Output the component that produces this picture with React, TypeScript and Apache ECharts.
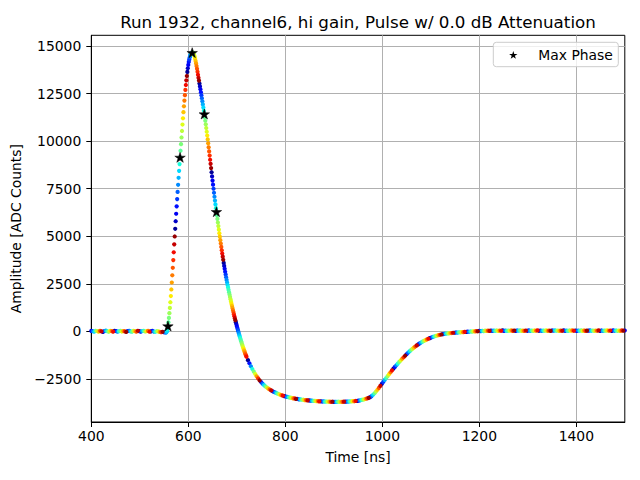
import React, { useEffect, useRef } from "react";
import * as echarts from "echarts";

// ---------------- data ----------------
// Waveform samples, split in segments: start time [ns], sampling step [ns], amplitudes [ADC counts]
const preStartNs = 400;
const preStepNs = 3;
const preAmplitude = [
  25, 10, -15, 35, 20, -10, 30, 5, -25, 20,
  40, 10, -20, 30, 15, -10, 35, 20, -15, 10,
  30, -5, 20, 0, -25, 20, 30, 5, -20, 30,
  10, -10, 35, 15, -20, 20, 30, -5, 10, 25,
  -15, 5, 30, -10, -20, 10, 0, -25, -35, -20,
  -45, -55,
];

const pulseStartNs = 554;
const pulseStepNs = 1;
const pulseAmplitude = [
  -50, -35, 10, 120, 284, 484, 709, 959, 1234, 1534,
  1859, 2204, 2569, 2949, 3344, 3749, 4159, 4574, 4989, 5392,
  5790, 6183, 6571, 6954, 7332, 7705, 8073, 8436, 8794, 9147,
  9495, 9840, 10190, 10534, 10871, 11200, 11520, 11830, 12129, 12416,
  12690, 12950, 13195, 13424, 13636, 13830, 14005, 14160, 14294, 14406,
  14496, 14558, 14603, 14633, 14649, 14654, 14636, 14594, 14528, 14440,
  14334, 14214, 14083, 13943, 13796, 13644, 13488, 13329, 13179, 13028,
  12876, 12723, 12568, 12411, 12252, 12091, 11928, 11763, 11595, 11424,
  11248, 11067, 10881, 10690, 10494, 10294, 10090, 9882, 9671, 9457,
  9241, 9023, 8804, 8584, 8364, 8145, 7927, 7711, 7497, 7286,
  7078, 6873, 6672, 6475, 6290, 6102, 5912, 5722, 5533, 5346,
  5161, 4978, 4797, 4618, 4441, 4267, 4096, 3928, 3763, 3601,
  3442, 3287, 3136, 2989, 2846, 2707, 2572, 2441, 2314, 2186,
  2060, 1936, 1814, 1694, 1576, 1460, 1346, 1234, 1124, 1016,
  906, 798, 692, 588, 486, 386, 288, 192, 98, 6,
  -84, -173, -261, -348, -434, -519, -603, -685, -765, -843,
  -919, -993, -1065, -1135, -1203, -1269, -1333,
];

const undershootStartNs = 723;
const undershootStepNs = 3;
const undershootAmplitude = [
  -1510, -1675, -1830, -1975, -2110, -2240, -2360, -2470, -2570, -2660,
  -2745, -2820, -2890, -2950, -3005, -3055, -3100, -3145, -3185, -3220,
  -3255, -3290, -3320, -3345, -3375, -3400, -3420, -3440, -3460, -3480,
  -3495, -3515, -3520, -3545, -3550, -3570, -3570, -3590, -3590, -3610,
  -3610, -3625, -3625, -3640, -3635, -3655, -3650, -3665, -3660, -3675,
  -3670, -3685, -3678, -3690, -3685, -3695, -3690, -3700, -3695, -3705,
  -3698, -3705, -3695, -3705, -3698, -3700, -3690, -3695, -3685, -3690,
  -3675, -3680, -3665, -3670, -3655, -3655, -3635, -3630, -3600, -3590,
  -3565, -3540, -3515, -3490, -3455, -3400, -3330, -3250, -3160, -3065,
  -2965, -2862, -2758, -2654, -2550, -2448, -2347, -2247, -2148, -2050,
  -1953, -1864, -1776, -1689, -1603, -1519, -1436, -1355, -1276, -1199,
  -1124, -1052, -983, -917, -854, -794, -737, -683, -632, -584,
  -539, -497, -457, -420, -385, -352, -321, -292, -265, -240,
  -217, -196, -177, -160,
];

const tailStartNs = 1125;
const tailStepNs = 3;
const tailAmplitude = [
  -145, -125, -122, -100, -104, -85, -84, -70, -70, -55,
  -60, -45, -48, -32, -38, -22, -28, -12, -18, -2,
  -8, 8, 0, 18, 6, 25, 12, 30, 18, 38,
  22, 40, 28, 45, 25, 42, 30, 50, 28, 45,
  32, 52, 30, 48, 26, 44, 34, 55, 30, 46,
  28, 50, 36, 52, 30, 45, 26, 48, 34, 55,
  30, 46, 28, 50, 36, 54, 32, 48, 26, 44,
  34, 52, 30, 48, 28, 50, 36, 55, 32, 46,
  28, 44, 34, 52, 30, 48, 26, 50, 36, 54,
  32, 48, 28, 46, 34, 55, 30, 50, 28, 44,
  36, 52, 32, 48, 26, 46, 34, 54, 30, 50,
  28, 44, 36, 52, 32, 48, 30, 55, 34, 50,
  30, 46, 28, 52, 36, 48,
];

// Samples of the phase with the maximum amplitude
const maxPhaseTimes = [558, 583, 608, 633, 658];
const maxPhaseAmplitude = [284, 9147, 14649, 11424, 6290];

// Axis ticks
const xTickValues = [400, 600, 800, 1000, 1200, 1400];
const yTickValues = [-2500, 0, 2500, 5000, 7500, 10000, 12500, 15000];

// Texts
const titleText = "Run 1932, channel6, hi gain, Pulse w/ 0.0 dB Attenuation";
const xAxisLabel = "Time [ns]";
const yAxisLabel = "Amplitude [ADC Counts]";
const legendLabel = "Max Phase";

// ---------------- styling helpers ----------------
const FONT = "DejaVu Sans";
const PHASE_PERIOD_NS = 25;
const PHASE_REF_NS = 558;
const PHASE_REF_FRACTION = 0.42;

const JET_R: number[][] = [[0, 0], [0.35, 0], [0.66, 1], [0.89, 1], [1, 0.5]];
const JET_G: number[][] = [[0, 0], [0.125, 0], [0.375, 1], [0.64, 1], [0.91, 0], [1, 0]];
const JET_B: number[][] = [[0, 0.5], [0.11, 1], [0.34, 1], [0.65, 0], [1, 0]];

function stopValue(stops: number[][], c: number): number {
  for (let i = 1; i < stops.length; i++) {
    if (c <= stops[i][0]) {
      const [x0, y0] = stops[i - 1];
      const [x1, y1] = stops[i];
      return y0 + ((y1 - y0) * (c - x0)) / (x1 - x0);
    }
  }
  return stops[stops.length - 1][1];
}

function jet(c: number): string {
  const r = Math.round(255 * stopValue(JET_R, c));
  const g = Math.round(255 * stopValue(JET_G, c));
  const b = Math.round(255 * stopValue(JET_B, c));
  return `rgb(${r},${g},${b})`;
}

function phaseFraction(t: number): number {
  const c = PHASE_REF_FRACTION + (t - PHASE_REF_NS) / PHASE_PERIOD_NS;
  return c - Math.floor(c);
}

function starPoints(cx: number, cy: number, R: number): number[][] {
  const pts: number[][] = [];
  for (let k = 0; k < 10; k++) {
    const r = k % 2 === 0 ? R : R * 0.381966;
    const a = -Math.PI / 2 + (k * Math.PI) / 5;
    pts.push([cx + r * Math.cos(a), cy + r * Math.sin(a)]);
  }
  return pts;
}

const STAR_SYMBOL =
  "path://" +
  starPoints(10, 10, 10)
    .map((p, i) => (i ? "L" : "M") + p[0].toFixed(3) + " " + p[1].toFixed(3))
    .join(" ") +
  " Z";

const segments = [
  { start: preStartNs, step: preStepNs, values: preAmplitude },
  { start: pulseStartNs, step: pulseStepNs, values: pulseAmplitude },
  { start: undershootStartNs, step: undershootStepNs, values: undershootAmplitude },
  { start: tailStartNs, step: tailStepNs, values: tailAmplitude },
];

function buildWaveform() {
  const items: { value: number[]; itemStyle: { color: string; opacity: number }; phase: number }[] = [];
  segments.forEach((s) => {
    s.values.forEach((v, i) => {
      const t = s.start + i * s.step;
      const ph = phaseFraction(t);
      items.push({ value: [t, v], itemStyle: { color: jet(ph), opacity: 1 }, phase: ph });
    });
  });
  items.sort((a, b) => a.phase - b.phase);
  return items.map((d) => ({ value: d.value, itemStyle: d.itemStyle }));
}

const plainFmt = (v: number) => String(v).replace("-", "\u2212");

export default function App() {
  const ref = useRef<HTMLDivElement>(null);

  useEffect(() => {
    if (!ref.current) return;
    const chart = echarts.init(ref.current, null, { renderer: "svg" });

    const axisText = { color: "#000", fontSize: 13.9, fontFamily: FONT };

    const option: any = {
      animation: false,
      textStyle: { fontFamily: FONT },
      grid: {
        left: 91.3,
        right: 15.2,
        top: 35.3,
        bottom: 58,
        show: true,
        borderColor: "#000",
        borderWidth: 1,
        backgroundColor: "transparent",
        containLabel: false,
        outerBoundsMode: "none",
      },
      xAxis: {
        type: "value",
        min: 400,
        max: 1500,
        name: xAxisLabel,
        nameLocation: "middle",
        nameGap: 28,
        nameTextStyle: axisText,
        axisLine: { show: true, onZero: false, lineStyle: { color: "#000", width: 1 } },
        axisTick: {
          show: true,
          inside: false,
          length: 5,
          customValues: xTickValues,
          lineStyle: { color: "#000", width: 1 },
        },
        axisLabel: {
          ...axisText,
          margin: 7,
          customValues: xTickValues,
          formatter: (v: number) => plainFmt(v),
        },
        splitLine: { show: true, lineStyle: { color: "#b0b0b0", width: 1 } },
      },
      yAxis: {
        type: "value",
        min: -4760,
        max: 15560,
        name: yAxisLabel,
        nameLocation: "middle",
        nameGap: 62,
        nameTextStyle: axisText,
        axisLine: { show: true, onZero: false, lineStyle: { color: "#000", width: 1 } },
        axisTick: {
          show: true,
          inside: false,
          length: 5,
          customValues: yTickValues,
          lineStyle: { color: "#000", width: 1 },
        },
        axisLabel: {
          ...axisText,
          margin: 10,
          customValues: yTickValues,
          formatter: (v: number) => plainFmt(v),
        },
        splitLine: { show: true, lineStyle: { color: "#b0b0b0", width: 1 } },
      },
      series: [
        {
          type: "scatter",
          name: "phases",
          data: buildWaveform(),
          symbol: "circle",
          symbolSize: 4.2,
          itemStyle: { opacity: 1 },
          silent: true,
          z: 2,
        },
        {
          type: "scatter",
          name: legendLabel,
          data: maxPhaseTimes.map((t, i) => [t, maxPhaseAmplitude[i]]),
          symbol: STAR_SYMBOL,
          symbolSize: 10.5,
          symbolKeepAspect: true,
          itemStyle: { color: "#000", borderColor: "#000", borderWidth: 0.5, opacity: 1 },
          silent: true,
          z: 3,
        },
      ],
      graphic: [
        {
          type: "text",
          x: 358,
          y: 22,
          style: {
            text: titleText,
            fill: "#000",
            font: `16.7px ${FONT}`,
            align: "center",
            verticalAlign: "middle",
          },
        },
        {
          type: "rect",
          shape: { x: 493.3, y: 42.3, width: 125, height: 24.4, r: 3 },
          style: { fill: "rgba(255,255,255,0.8)", stroke: "#cccccc", lineWidth: 1 },
          z: 10,
        },
        {
          type: "polygon",
          shape: { points: starPoints(513.3, 55.3, 4.4) },
          style: { fill: "#000" },
          z: 11,
        },
        {
          type: "text",
          x: 538.3,
          y: 54.5,
          style: {
            text: legendLabel,
            fill: "#000",
            font: `13.9px ${FONT}`,
            align: "left",
            verticalAlign: "middle",
          },
          z: 11,
        },
      ],
    };

    chart.setOption(option);
    return () => chart.dispose();
  }, []);

  return (
    <div
      ref={ref}
      style={{ position: "fixed", left: 0, top: 0, width: 640, height: 480, background: "#fff" }}
    />
  );
}
